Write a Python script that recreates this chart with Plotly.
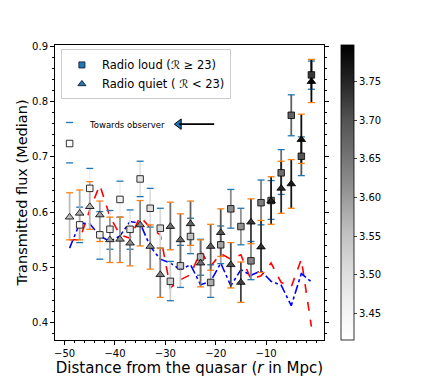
import plotly.graph_objects as go
from plotly.colors import sample_colorscale

# --- data ---
dist = [-49, -47, -45, -43, -41, -39, -37, -35, -33, -31, -29, -27, -25,
        -23, -21, -19, -17, -15, -13, -11, -9, -7, -5, -3, -1]

# radio loud (squares): median flux, upper / lower error bound
loud_flux = [0.724, 0.577, 0.643, 0.559, 0.569, 0.623, 0.569, 0.660, 0.607, 0.571, 0.475, 0.503, 0.556,
             0.519, 0.473, 0.541, 0.606, 0.574, 0.512, 0.617, 0.621, 0.671, 0.775, 0.701, 0.848]
loud_hi = [0.762, 0.609, 0.679, 0.601, 0.603, 0.656, 0.604, 0.692, 0.643, 0.607, 0.511, 0.540, 0.589,
           0.551, 0.505, 0.575, 0.641, 0.607, 0.547, 0.658, 0.657, 0.713, 0.812, 0.736, 0.873]
loud_lo = [0.689, 0.545, 0.607, 0.515, 0.533, 0.591, 0.533, 0.628, 0.573, 0.535, 0.440, 0.464, 0.525,
           0.486, 0.446, 0.507, 0.571, 0.541, 0.478, 0.577, 0.587, 0.632, 0.738, 0.666, 0.822]
loud_z = [3.42, 3.44, 3.45, 3.46, 3.47, 3.46, 3.48, 3.49, 3.50, 3.51, 3.53, 3.54, 3.55,
          3.57, 3.58, 3.59, 3.62, 3.61, 3.63, 3.64, 3.65, 3.66, 3.68, 3.70, 3.73]

# radio quiet (triangles)
quiet_flux = [0.591, 0.598, 0.610, 0.595, 0.550, 0.551, 0.544, 0.577, 0.538, 0.487, 0.574, 0.550, 0.579,
              0.508, 0.538, 0.563, 0.505, 0.473, 0.582, 0.537, 0.620, 0.643, 0.651, 0.731, 0.836]
quiet_hi = [0.635, 0.640, 0.655, 0.620, 0.591, 0.591, 0.574, 0.621, 0.577, 0.535, 0.618, 0.597, 0.620,
            0.550, 0.578, 0.606, 0.545, 0.510, 0.624, 0.585, 0.664, 0.692, 0.695, 0.777, 0.876]
quiet_lo = [0.550, 0.550, 0.569, 0.547, 0.509, 0.509, 0.503, 0.539, 0.497, 0.446, 0.532, 0.503, 0.540,
            0.465, 0.495, 0.520, 0.463, 0.437, 0.543, 0.491, 0.578, 0.598, 0.607, 0.688, 0.798]
quiet_z = [3.56, 3.58, 3.57, 3.59, 3.60, 3.61, 3.62, 3.63, 3.62, 3.64, 3.66, 3.67, 3.68,
           3.66, 3.69, 3.70, 3.71, 3.72, 3.73, 3.74, 3.76, 3.75, 3.77, 3.78, 3.79]

# comparison curves
red_curve = [0.550, 0.550, 0.604, 0.649, 0.592, 0.559, 0.553, 0.592, 0.572, 0.559, 0.463, 0.478, 0.487,
             0.529, 0.502, 0.525, 0.515, 0.523, 0.478, 0.485, 0.508, 0.473, 0.465, 0.515, 0.393]
blue_curve = [0.535, 0.580, 0.579, 0.557, 0.547, 0.557, 0.583, 0.580, 0.538, 0.515, 0.508, 0.496, 0.505,
              0.469, 0.475, 0.508, 0.467, 0.496, 0.486, 0.494, 0.475, 0.468, 0.431, 0.489, 0.474]

cb_ticks = [3.45, 3.50, 3.55, 3.60, 3.65, 3.70, 3.75]
zmin, zmax = 3.415, 3.798

# matplotlib "Greys"
greys = [[0, "#ffffff"], [0.125, "#f0f0f0"], [0.25, "#d9d9d9"], [0.375, "#bdbdbd"],
         [0.5, "#969696"], [0.625, "#737373"], [0.75, "#525252"], [0.875, "#252525"], [1, "#000000"]]


def grey_of(vals):
    return sample_colorscale(greys, [(v - zmin) / (zmax - zmin) for v in vals])


fig = go.Figure()

# --- curves ---
fig.add_trace(go.Scatter(x=dist, y=red_curve, mode="lines", showlegend=False,
                         line=dict(color="red", width=1.6, dash="dash")))
fig.add_trace(go.Scatter(x=dist, y=blue_curve, mode="lines", showlegend=False,
                         line=dict(color="blue", width=1.6, dash="dashdot")))

# --- error bars coloured by the colormap, caps in C0 / C1 ---
for flux, hi, lo, z, cap in [(loud_flux, loud_hi, loud_lo, loud_z, "#1f77b4"),
                             (quiet_flux, quiet_hi, quiet_lo, quiet_z, "#ff7f0e")]:
    cols = grey_of(z)
    for i in range(len(dist)):
        fig.add_trace(go.Scatter(x=[dist[i], dist[i]], y=[lo[i], hi[i]], mode="lines",
                                 line=dict(color=cols[i], width=1.8),
                                 showlegend=False, hoverinfo="skip"))
    fig.add_trace(go.Scatter(x=dist + dist, y=lo + hi, mode="markers", showlegend=False,
                             hoverinfo="skip",
                             marker=dict(symbol="line-ew", size=5,
                                         line=dict(color=cap, width=1.3))))

# --- markers ---
fig.add_trace(go.Scatter(x=dist, y=loud_flux, mode="markers", showlegend=False,
                         marker=dict(symbol="square", size=6.5, color=loud_z, coloraxis="coloraxis",
                                     line=dict(color="black", width=0.8))))
fig.add_trace(go.Scatter(x=dist, y=quiet_flux, mode="markers", showlegend=False,
                         marker=dict(symbol="triangle-up", size=7.5, color=quiet_z, coloraxis="coloraxis",
                                     line=dict(color="black", width=0.8))))

# legend entries
fig.add_trace(go.Scatter(x=[None], y=[None], mode="markers", name="Radio loud (\u211b \u2265 23)",
                         marker=dict(symbol="square", size=6, color="#1f77b4",
                                     line=dict(color="#1b2a44", width=1))))
fig.add_trace(go.Scatter(x=[None], y=[None], mode="markers", name="Radio quiet ( \u211b < 23)",
                         marker=dict(symbol="triangle-up", size=7, color="#1f77b4",
                                     line=dict(color="#1b2a44", width=1))))

# --- "Towards observer" arrow ---
fig.add_annotation(x=-37.6, y=0.758, text="Towards observer", showarrow=False,
                   font=dict(size=8.5, color="black"))
fig.add_annotation(x=-27.3, y=0.759, ax=-20.0, ay=0.759, axref="x", ayref="y",
                   text="", showarrow=True, arrowhead=0, arrowwidth=1.6, arrowcolor="black")
fig.add_trace(go.Scatter(x=[-27.3], y=[0.759], mode="markers", showlegend=False, hoverinfo="skip",
                         marker=dict(symbol="triangle-left", size=9, color="#1f77b4",
                                     line=dict(color="black", width=1))))

# the page body adds an 8px offset, so the figure is drawn 8px smaller
fig.update_layout(
    width=428, height=374,
    margin=dict(l=47, r=111.5, t=37, b=42),
    paper_bgcolor="white", plot_bgcolor="white",
    font=dict(family="DejaVu Sans", color="black", size=10),
    coloraxis=dict(colorscale=greys, cmin=zmin, cmax=zmax,
                   colorbar=dict(x=1.065, xanchor="left", y=0.5, yanchor="middle",
                                 len=1, lenmode="fraction", thickness=13, ypad=0, xpad=0,
                                 outlinewidth=0.8, outlinecolor="black",
                                 tickvals=cb_ticks, ticktext=[f"{t:.2f}" for t in cb_ticks],
                                 ticks="outside", ticklen=3, tickfont=dict(size=10))),
    legend=dict(x=0.022, y=0.985, xanchor="left", yanchor="top",
                bgcolor="white", bordercolor="#cccccc", borderwidth=1,
                font=dict(size=11.5)),
    xaxis=dict(range=[-51.9, 1.5], showgrid=False, zeroline=False, automargin=False,
               showline=True, linecolor="black", linewidth=1, mirror=True,
               ticks="outside", ticklen=4, tickcolor="black",
               tickvals=[-50, -40, -30, -20, -10], ticktext=["\u221250", "\u221240", "\u221230", "\u221220", "\u221210"],
               minor=dict(ticks="outside", ticklen=2, dtick=2, tick0=0, tickcolor="black"),
               title=dict(text="Distance from the quasar (<i>r</i> in Mpc)", font=dict(size=15), standoff=2)),
    yaxis=dict(range=[0.369, 0.902], showgrid=False, zeroline=False, automargin=False,
               showline=True, linecolor="black", linewidth=1, mirror="ticks",
               ticks="outside", ticklen=4, tickcolor="black",
               tickvals=[0.4, 0.5, 0.6, 0.7, 0.8, 0.9],
               minor=dict(ticks="outside", ticklen=2, dtick=0.02, tick0=0, tickcolor="black"),
               title=dict(text="Transmitted flux (Median)", font=dict(size=14.5), standoff=1)),
)

fig.write_html("out.html")
